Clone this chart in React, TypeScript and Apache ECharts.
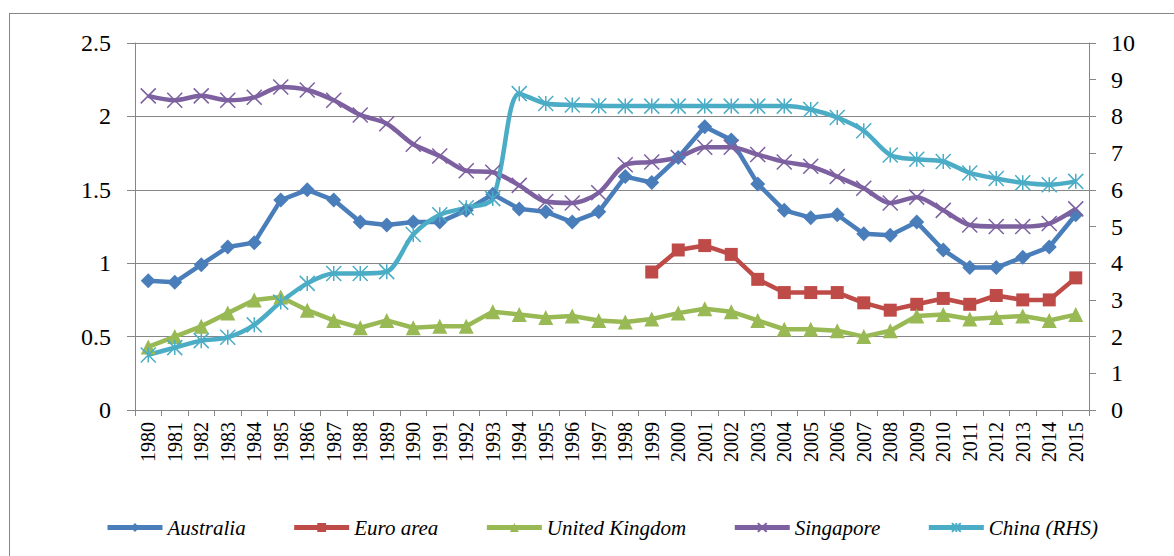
import React, { useEffect, useRef } from "react";
import * as echarts from "echarts";

const years = [
  "1980","1981","1982","1983","1984","1985","1986","1987","1988","1989",
  "1990","1991","1992","1993","1994","1995","1996","1997","1998","1999",
  "2000","2001","2002","2003","2004","2005","2006","2007","2008","2009",
  "2010","2011","2012","2013","2014","2015",
];

const australia = [
  0.88, 0.87, 0.99, 1.11, 1.14, 1.43, 1.50, 1.43, 1.28, 1.26,
  1.28, 1.28, 1.36, 1.47, 1.37, 1.35, 1.28, 1.35, 1.59, 1.55,
  1.72, 1.93, 1.84, 1.54, 1.36, 1.31, 1.33, 1.20, 1.19, 1.28,
  1.09, 0.97, 0.97, 1.04, 1.11, 1.33,
];

const euroArea = [
  null, null, null, null, null, null, null, null, null, null,
  null, null, null, null, null, null, null, null, null, 0.94,
  1.09, 1.12, 1.06, 0.89, 0.80, 0.80, 0.80, 0.73, 0.68, 0.72,
  0.76, 0.72, 0.78, 0.75, 0.75, 0.90,
];

const unitedKingdom = [
  0.43, 0.50, 0.57, 0.66, 0.75, 0.77, 0.68, 0.61, 0.56, 0.61,
  0.56, 0.57, 0.57, 0.67, 0.65, 0.63, 0.64, 0.61, 0.60, 0.62,
  0.66, 0.69, 0.67, 0.61, 0.55, 0.55, 0.54, 0.50, 0.54, 0.64,
  0.65, 0.62, 0.63, 0.64, 0.61, 0.65,
];

const singapore = [
  2.14, 2.11, 2.14, 2.11, 2.13, 2.20, 2.18, 2.11, 2.01, 1.95,
  1.81, 1.73, 1.63, 1.62, 1.53, 1.42, 1.41, 1.48, 1.67, 1.69,
  1.72, 1.79, 1.79, 1.74, 1.69, 1.66, 1.59, 1.51, 1.41, 1.45,
  1.36, 1.26, 1.25, 1.25, 1.27, 1.37,
];

const chinaRHS = [
  1.50, 1.70, 1.89, 1.98, 2.32, 2.94, 3.45, 3.72, 3.72, 3.77,
  4.78, 5.32, 5.51, 5.76, 8.62, 8.35, 8.31, 8.29, 8.28, 8.28,
  8.28, 8.28, 8.28, 8.28, 8.28, 8.19, 7.97, 7.61, 6.95, 6.83,
  6.77, 6.46, 6.31, 6.19, 6.14, 6.23,
];

const FONT = "serif";
const GRAY = "#868686";
const X_PATH = "path://M0,0L10,10M10,0L0,10";
const STAR_PATH = "path://M0,0L10,10M10,0L0,10M5,0L5,10";

export default function App() {
  const ref = useRef<HTMLDivElement>(null);

  useEffect(() => {
    if (!ref.current) return;
    const chart = echarts.init(ref.current, null, { renderer: "svg" });

    const mk = (
      name: string,
      data: (number | null)[],
      color: string,
      symbol: string,
      symbolSize: number,
      extra: any = {}
    ) => ({
      name,
      type: "line",
      data,
      symbol,
      symbolSize,
      showSymbol: true,
      lineStyle: { color, width: 4.5 },
      itemStyle: { color, borderColor: color, borderWidth: extra.borderWidth ?? 0 },
      smooth: extra.smooth ?? false,
      yAxisIndex: extra.yAxisIndex ?? 0,
    });

    chart.setOption({
      animation: false,
      grid: { left: 135, right: 85, top: 43, bottom: 146 },
      legend: {
        left: 100,
        top: 512,
        itemWidth: 55,
        itemHeight: 11,
        itemGap: 46,
        lineStyle: { width: 5 },
        textStyle: {
          fontFamily: FONT,
          fontStyle: "italic",
          fontSize: 21,
          color: "#000",
        },
      },
      xAxis: {
        type: "category",
        data: years,
        boundaryGap: true,
        axisLine: { show: true, lineStyle: { color: GRAY, width: 1 } },
        axisTick: { show: true, alignWithLabel: false, length: 6, interval: 0, lineStyle: { color: GRAY } },
        axisLabel: {
          fontFamily: FONT,
          fontSize: 20,
          interval: 0,
          rotate: 90,
          margin: 12,
          color: "#000",
        },
        splitLine: { show: false },
      },
      yAxis: [
        {
          type: "value",
          min: 0,
          max: 2.5,
          interval: 0.5,
          position: "left",
          axisLine: { show: true, lineStyle: { color: GRAY, width: 1 } },
          axisTick: { show: true, length: 8, lineStyle: { color: GRAY } },
          axisLabel: { fontFamily: FONT, fontSize: 24, margin: 24, color: "#000" },
          splitLine: { show: true, lineStyle: { color: GRAY, width: 1.2 } },
        },
        {
          type: "value",
          min: 0,
          max: 10,
          interval: 1,
          position: "right",
          axisLine: { show: true, lineStyle: { color: GRAY, width: 1 } },
          axisTick: { show: true, length: 7, lineStyle: { color: GRAY } },
          axisLabel: { fontFamily: FONT, fontSize: 24, margin: 22, color: "#000" },
          splitLine: { show: false },
        },
      ],
      series: [
        mk("Australia", australia, "#4A7EBB", "diamond", 15),
        mk("Euro area", euroArea, "#BE4B48", "rect", 13),
        mk("United Kingdom", unitedKingdom, "#98B954", "triangle", 15),
        mk("Singapore", singapore, "#7D60A0", X_PATH, 15, { smooth: 0.3, borderWidth: 1.5 }),
        mk("China (RHS)", chinaRHS, "#4BACC6", STAR_PATH, 15, { smooth: 0.3, borderWidth: 1.5, yAxisIndex: 1 }),
      ],
    });

    return () => chart.dispose();
  }, []);

  return (
    <div style={{ position: "fixed", left: 0, top: 0, width: 1174, height: 556, background: "#fff", overflow: "hidden" }}>
      <div
        style={{
          position: "absolute",
          left: 9,
          top: 13,
          width: 1300,
          height: 700,
          border: "1px solid " + GRAY,
          boxSizing: "border-box",
        }}
      />
      <div ref={ref} style={{ position: "absolute", left: 0, top: 0, width: 1174, height: 556 }} />
    </div>
  );
}
